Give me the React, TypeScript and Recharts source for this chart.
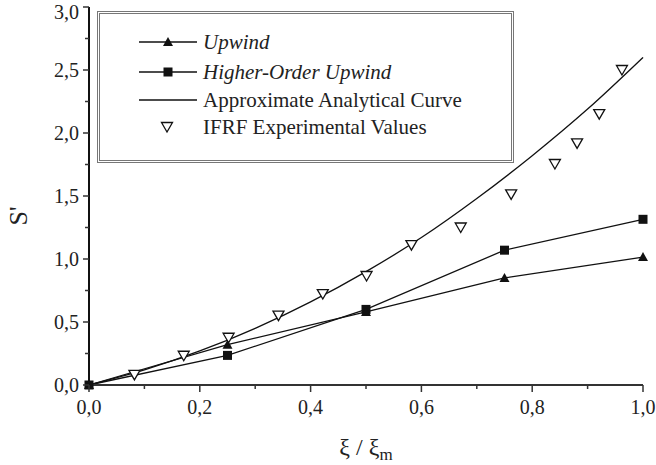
import React from 'react';
import { ComposedChart, Line, Scatter, XAxis, YAxis, Legend } from 'recharts';

// Upwind and higher-order upwind solutions
const SCHEME_X = [0, 0.25, 0.5, 0.75, 1.0];
const UPWIND_Y = [0, 0.32, 0.58, 0.85, 1.015];
const HIGHER_ORDER_Y = [0, 0.235, 0.6, 1.07, 1.315];

// Approximate analytical curve
const CURVE_X = [0, 0.1, 0.2, 0.3, 0.4, 0.5, 0.6, 0.7, 0.8, 0.9, 1.0];
const CURVE_Y = [0, 0.12, 0.27, 0.45, 0.66, 0.9, 1.17, 1.48, 1.82, 2.19, 2.6];

// IFRF measurements
const EXP_X = [0.082, 0.171, 0.252, 0.342, 0.422, 0.501, 0.582, 0.671, 0.762, 0.841, 0.881, 0.921, 0.962];
const EXP_Y = [0.08, 0.232, 0.375, 0.55, 0.722, 0.865, 1.11, 1.25, 1.513, 1.754, 1.918, 2.15, 2.5];

const X_TICKS = [0, 0.1, 0.2, 0.3, 0.4, 0.5, 0.6, 0.7, 0.8, 0.9, 1.0];
const Y_TICKS = [0, 0.25, 0.5, 0.75, 1.0, 1.25, 1.5, 1.75, 2.0, 2.25, 2.5, 2.75, 3.0];

const SERIES_NAMES = ['Upwind', 'Higher-Order Upwind', 'Approximate Analytical Curve', 'IFRF Experimental Values'];

const FONT = '"Liberation Serif", "Times New Roman", serif';
const INK = '#111';
const FRAME = '#333';
const TICK_SIZE = 6;
const TICK_MARGIN = 2;

const toPoints = (xs: number[], ys: number[]) => xs.map((x, i) => ({ x, y: ys[i] }));

const upwindData = toPoints(SCHEME_X, UPWIND_Y);
const higherOrderData = toPoints(SCHEME_X, HIGHER_ORDER_Y);
const curveData = toPoints(CURVE_X, CURVE_Y);
const expData = toPoints(EXP_X, EXP_Y);

const fmt = (v: number) => v.toFixed(1).replace('.', ',');
const isMajor = (v: number, step: number) => Math.abs(v / step - Math.round(v / step)) < 1e-6;

const TriangleUp = ({ cx, cy }: { cx: number; cy: number }) => (
  <polygon points={`${cx - 5},${cy + 4} ${cx + 5},${cy + 4} ${cx},${cy - 5}`} fill={INK} />
);

const SquareMark = ({ cx, cy }: { cx: number; cy: number }) => (
  <rect x={cx - 4.5} y={cy - 4.5} width={9} height={9} fill={INK} />
);

const TriangleDown = ({ cx, cy }: { cx: number; cy: number }) => (
  <polygon
    points={`${cx - 5.5},${cy - 4.5} ${cx + 5.5},${cy - 4.5} ${cx},${cy + 5}`}
    fill="#fff"
    stroke={INK}
    strokeWidth={1.3}
  />
);

const XTick = (props: any) => {
  const { x, y, payload } = props;
  const axisY = y - TICK_SIZE - TICK_MARGIN;
  const major = isMajor(payload.value, 0.2);
  return (
    <g>
      <line x1={x} x2={x} y1={axisY} y2={axisY + (major ? 7 : 4)} stroke={FRAME} strokeWidth={1.5} />
      {major && (
        <text x={x} y={axisY + 29} textAnchor="middle" fontSize={20} fontFamily={FONT} fill="#222">
          {fmt(payload.value)}
        </text>
      )}
    </g>
  );
};

const YTick = (props: any) => {
  const { x, y, payload } = props;
  const axisX = x + TICK_SIZE + TICK_MARGIN;
  const major = isMajor(payload.value, 0.5);
  // keep the topmost label inside the canvas
  const baseline = Math.max(y + 7, 19);
  return (
    <g>
      <line x1={axisX} x2={axisX - (major ? 6 : 4)} y1={y} y2={y} stroke={FRAME} strokeWidth={1.5} />
      {major && (
        <text x={axisX - 10} y={baseline} textAnchor="end" fontSize={20} fontFamily={FONT} fill="#222">
          {fmt(payload.value)}
        </text>
      )}
    </g>
  );
};

const LegendBox = () => {
  const rows = [28, 58, 86, 113];
  return (
    <div style={{ width: 411, height: 146, border: '3px double #777', background: '#fff' }}>
      <svg width={411} height={146}>
        {SERIES_NAMES.map((name, i) => {
          const cy = rows[i];
          return (
            <g key={name}>
              {i < 3 && <line x1={39} x2={97} y1={cy} y2={cy} stroke={INK} strokeWidth={1.3} />}
              {i === 0 && <TriangleUp cx={68} cy={cy} />}
              {i === 1 && <SquareMark cx={68} cy={cy} />}
              {i === 3 && <TriangleDown cx={67} cy={cy} />}
              <text
                x={103}
                y={cy + 7}
                fontSize={21}
                fontFamily={FONT}
                fontStyle={i < 2 ? 'italic' : 'normal'}
                fill="#222"
              >
                {name}
              </text>
            </g>
          );
        })}
      </svg>
    </div>
  );
};

export default function App() {
  return (
    <div style={{ position: 'absolute', left: 0, top: 0, width: 656, height: 465, background: '#fff' }}>
      <ComposedChart width={656} height={465} margin={{ top: 7, right: 13, left: 29, bottom: 50 }}>
        <XAxis
          dataKey="x"
          type="number"
          domain={[0, 1]}
          ticks={X_TICKS}
          interval={0}
          tickSize={TICK_SIZE}
          tickMargin={TICK_MARGIN}
          tickLine={false}
          tick={<XTick />}
          height={30}
          axisLine={{ stroke: FRAME, strokeWidth: 2 }}
          label={{
            content: (p: any) => {
              const vb = p.viewBox;
              return (
                <text x={vb.x + vb.width / 2} y={vb.y + 70} textAnchor="middle" fontSize={24} fontFamily={FONT} fill="#222">
                  ξ / ξ<tspan fontSize={17} dy={5}>m</tspan>
                </text>
              );
            },
          }}
        />
        <XAxis xAxisId="top" orientation="top" type="number" domain={[0, 1]} height={0} tick={false} tickLine={false} axisLine={{ stroke: FRAME, strokeWidth: 2 }} />
        <YAxis
          dataKey="y"
          type="number"
          domain={[0, 3]}
          ticks={Y_TICKS}
          interval={0}
          tickSize={TICK_SIZE}
          tickMargin={TICK_MARGIN}
          tickLine={false}
          tick={<YTick />}
          width={60}
          axisLine={{ stroke: '#111', strokeWidth: 2 }}
          label={{
            content: (p: any) => {
              const vb = p.viewBox;
              const cx = vb.x - 11;
              const cy = vb.y + vb.height / 2 + 20;
              return (
                <text x={cx} y={cy} transform={`rotate(-90 ${cx} ${cy})`} textAnchor="middle" dominantBaseline="central" fontSize={26} fontFamily={FONT} fill="#222">
                  S'
                </text>
              );
            },
          }}
        />
        <YAxis yAxisId="right" orientation="right" type="number" domain={[0, 3]} width={0} tick={false} tickLine={false} axisLine={{ stroke: FRAME, strokeWidth: 2 }} />
        <Line
          data={curveData}
          dataKey="y"
          type="monotone"
          stroke={INK}
          strokeWidth={1.3}
          dot={false}
          activeDot={false}
          isAnimationActive={false}
        />
        <Line
          data={higherOrderData}
          dataKey="y"
          type="linear"
          stroke={INK}
          strokeWidth={1.3}
          dot={(p: any) => <SquareMark key={`h-${p.index}`} cx={p.cx} cy={p.cy} />}
          activeDot={false}
          isAnimationActive={false}
        />
        <Line
          data={upwindData}
          dataKey="y"
          type="linear"
          stroke={INK}
          strokeWidth={1.3}
          dot={(p: any) => <TriangleUp key={`u-${p.index}`} cx={p.cx} cy={p.cy} />}
          activeDot={false}
          isAnimationActive={false}
        />
        <Scatter
          data={expData}
          dataKey="y"
          shape={(p: any) => <TriangleDown cx={p.cx} cy={p.cy} />}
          isAnimationActive={false}
        />
        <Legend
          layout="vertical"
          align="center"
          verticalAlign="middle"
          content={() => <LegendBox />}
          wrapperStyle={{ left: 97, top: 11, width: 417, height: 152 }}
        />
      </ComposedChart>
    </div>
  );
}
